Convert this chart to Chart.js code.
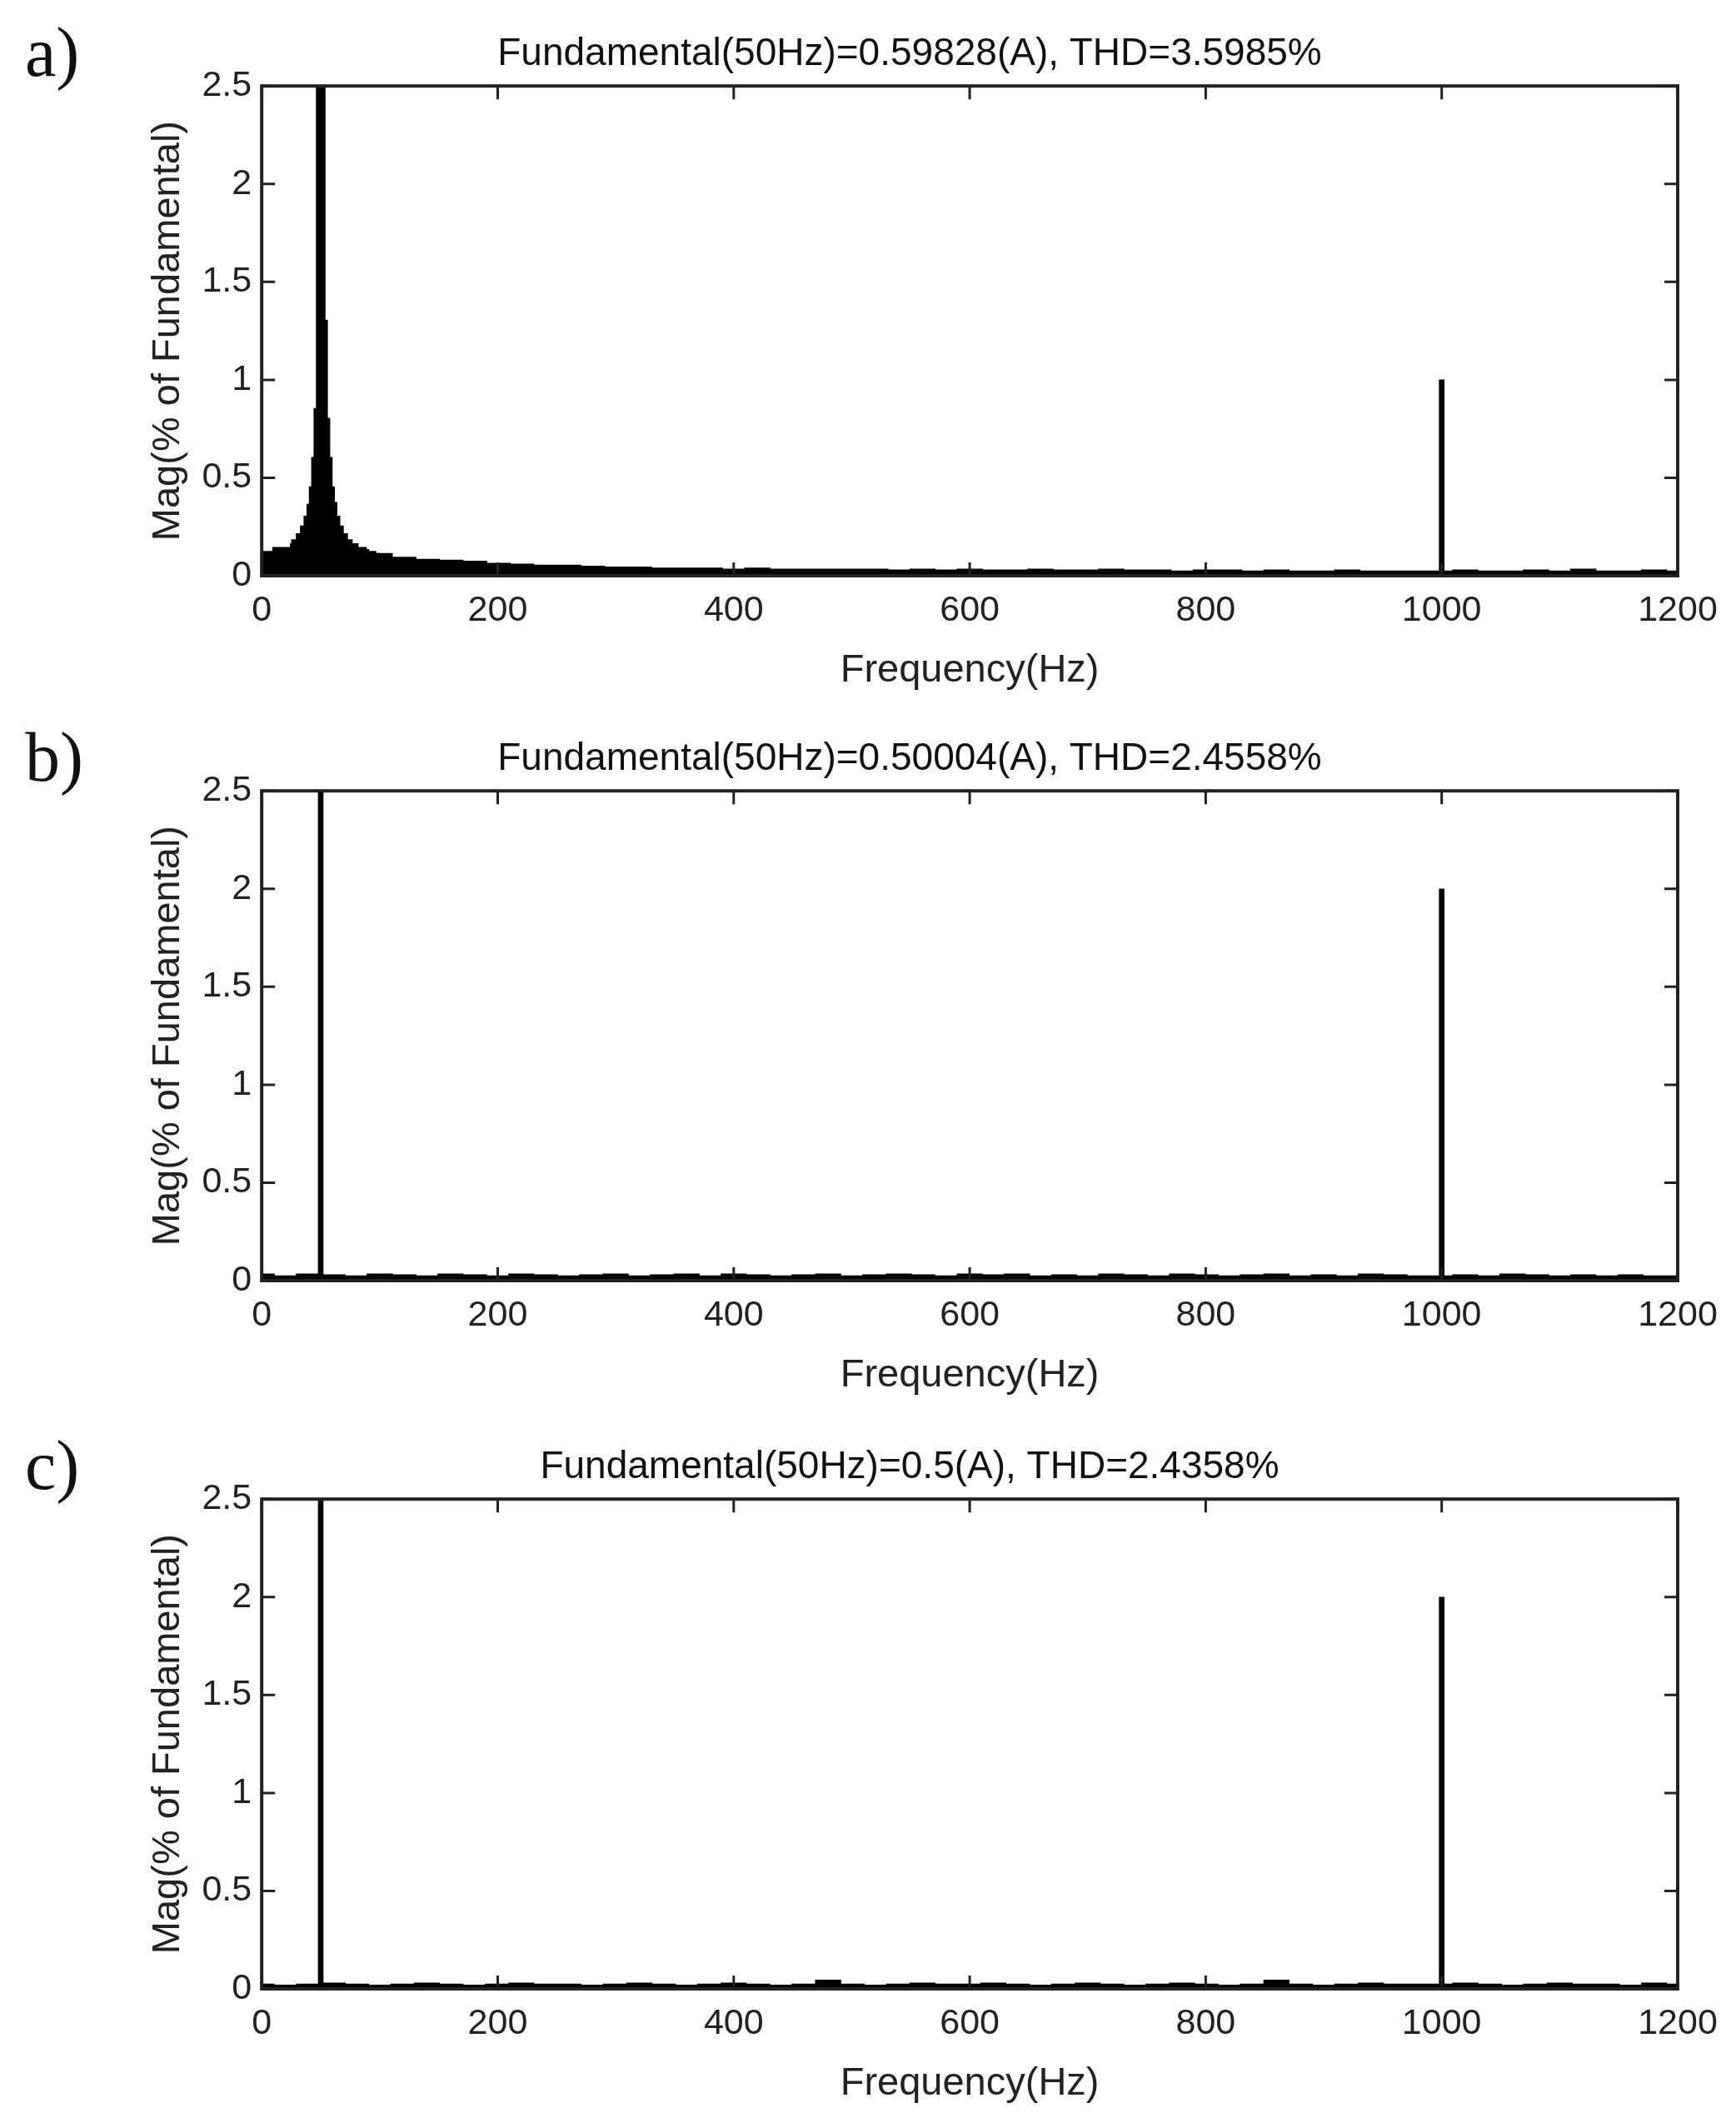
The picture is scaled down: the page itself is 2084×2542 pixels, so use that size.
<!DOCTYPE html>
<html>
<head>
<meta charset="utf-8">
<script src="https://cdn.jsdelivr.net/npm/chart.js@4.4.0/dist/chart.umd.min.js"></script>
<style>
  body { margin: 0; background: #fff; width: 2084px; height: 2542px; position: relative; overflow: hidden; }
  .panel { position: absolute; left: 0; width: 2084px; height: 847px; }
  .tag { position: absolute; left: 30px; font-family: "Liberation Serif", serif; font-size: 84px; color: #111; }
</style>
</head>
<body>
<div class="panel" style="top:0"><canvas id="chartA"></canvas></div>
<div class="panel" style="top:846px"><canvas id="chartB"></canvas></div>
<div class="panel" style="top:1696px"><canvas id="chartC"></canvas></div>
<div class="tag" style="top:14px">a)</div>
<div class="tag" style="top:860px">b)</div>
<div class="tag" style="top:1710px">c)</div>
<script>
const noiseFreq = [0, 20, 40, 60, 80, 100, 120, 140, 160, 180, 200, 220, 240, 260, 280, 300, 320, 340, 360, 380, 400, 420, 440, 460, 480, 500, 520, 540, 560, 580, 600, 620, 640, 660, 680, 700, 720, 740, 760, 780, 800, 820, 840, 860, 880, 900, 920, 940, 960, 980, 1000, 1020, 1040, 1060, 1080, 1100, 1120, 1140, 1160, 1180, 1200]
const noiseA = [0.12, 0.14, 0.14, 0.14, 0.13, 0.11, 0.09, 0.08, 0.075, 0.07, 0.06, 0.055, 0.05, 0.05, 0.045, 0.04, 0.04, 0.035, 0.035, 0.035, 0.03, 0.035, 0.03, 0.03, 0.03, 0.03, 0.03, 0.025, 0.03, 0.025, 0.03, 0.025, 0.025, 0.03, 0.025, 0.025, 0.03, 0.025, 0.025, 0.02, 0.025, 0.025, 0.02, 0.025, 0.02, 0.02, 0.025, 0.02, 0.02, 0.02, 0.02, 0.025, 0.02, 0.02, 0.025, 0.02, 0.03, 0.02, 0.02, 0.025, 0.02]
const noiseB = [0.03, 0.02, 0.03, 0.025, 0.02, 0.03, 0.025, 0.02, 0.03, 0.025, 0.02, 0.03, 0.025, 0.02, 0.025, 0.03, 0.02, 0.025, 0.03, 0.02, 0.03, 0.025, 0.02, 0.025, 0.03, 0.02, 0.025, 0.03, 0.025, 0.02, 0.03, 0.025, 0.03, 0.02, 0.025, 0.02, 0.03, 0.025, 0.02, 0.03, 0.025, 0.02, 0.025, 0.03, 0.02, 0.025, 0.02, 0.03, 0.025, 0.02, 0.02, 0.025, 0.02, 0.03, 0.025, 0.02, 0.025, 0.02, 0.025, 0.02, 0.02]
const noiseC = [0.02, 0.015, 0.02, 0.025, 0.02, 0.015, 0.02, 0.025, 0.02, 0.015, 0.02, 0.025, 0.02, 0.02, 0.015, 0.02, 0.025, 0.02, 0.015, 0.02, 0.025, 0.02, 0.015, 0.02, 0.04, 0.02, 0.015, 0.02, 0.025, 0.02, 0.02, 0.025, 0.02, 0.015, 0.02, 0.025, 0.02, 0.015, 0.02, 0.025, 0.02, 0.015, 0.02, 0.04, 0.02, 0.015, 0.02, 0.025, 0.02, 0.02, 0.02, 0.025, 0.02, 0.015, 0.02, 0.025, 0.02, 0.02, 0.015, 0.025, 0.02]

// Leakage skirt around the 50 Hz line in panel a
const skirtFreq = [24, 28, 32, 35, 38, 40, 42, 44, 46, 48, 52, 54, 56, 58, 60, 62, 64, 67, 70, 74, 78, 84, 92, 100]
const skirtA = [0.16, 0.18, 0.21, 0.25, 0.3, 0.36, 0.45, 0.6, 0.85, 3, 3, 1.3, 0.8, 0.6, 0.45, 0.37, 0.3, 0.25, 0.21, 0.18, 0.16, 0.14, 0.12, 0.11]

// Harmonic lines: frequency and magnitude (50 Hz fundamental runs off the top)
const spikeFreq = [50, 1000]
const spikeA = [100, 1.0]
const spikeB = [100, 2.0]
const spikeC = [100, 2.0]

const xTicks = [0, 200, 400, 600, 800, 1000, 1200]
const yTicks = [0, 0.5, 1, 1.5, 2, 2.5]

const titles = [
  "Fundamental(50Hz)=0.59828(A), THD=3.5985%",
  "Fundamental(50Hz)=0.50004(A), THD=2.4558%",
  "Fundamental(50Hz)=0.5(A), THD=2.4358%"
]

const ink = "#222"
const font = "'Liberation Sans', Arial, sans-serif"

// box + inward ticks on all four sides, like the matlab axes
const boxPlugin = {
  id: "box",
  afterDraw(chart) {
    const { ctx, chartArea: a, scales } = chart
    ctx.save()
    ctx.strokeStyle = ink
    ctx.lineWidth = 4
    ctx.strokeRect(a.left, a.top, a.right - a.left, a.bottom - a.top)
    ctx.lineWidth = 3
    xTicks.forEach((v) => {
      const px = scales.x.getPixelForValue(v)
      ctx.beginPath()
      ctx.moveTo(px, a.bottom); ctx.lineTo(px, a.bottom - 16)
      ctx.moveTo(px, a.top); ctx.lineTo(px, a.top + 16)
      ctx.stroke()
    })
    yTicks.forEach((v) => {
      const py = scales.y.getPixelForValue(v)
      ctx.beginPath()
      ctx.moveTo(a.left, py); ctx.lineTo(a.left + 16, py)
      ctx.moveTo(a.right, py); ctx.lineTo(a.right - 16, py)
      ctx.stroke()
    })
    ctx.restore()
  }
}

function toPts(xs, ys) {
  return xs.map((x, i) => ({ x: x, y: ys[i] }))
}

function areaSet(pts) {
  return {
    type: "line",
    data: pts,
    stepped: "middle",
    borderColor: "#000",
    backgroundColor: "#000",
    borderWidth: 3,
    fill: "origin",
    pointRadius: 0,
  }
}

function makeChart(id, noise, spikes, skirt, title) {
  const datasets = [areaSet(toPts(noiseFreq, noise))]
  if (skirt) datasets.push(areaSet(toPts(skirtFreq, skirt)))
  datasets.push({
    type: "bar",
    data: toPts(spikeFreq, spikes),
    backgroundColor: "#000",
    barThickness: 6,
  })
  new Chart(document.getElementById(id), {
    type: "line",
    data: { datasets },
    options: {
      responsive: false,
      animation: false,
      devicePixelRatio: 1,
      layout: { padding: { left: 170, right: 70, top: 10, bottom: 10 } },
      plugins: {
        legend: { display: false },
        tooltip: { enabled: false },
        title: {
          display: true,
          text: title,
          color: "#111",
          font: { family: font, size: 46, weight: "normal" },
          padding: { top: 28, bottom: 10 },
        },
      },
      scales: {
        x: {
          type: "linear",
          min: 0,
          max: 1200,
          offset: false,
          afterBuildTicks: (s) => { s.ticks = xTicks.map((v) => ({ value: v })) },
          grid: { display: false, drawTicks: false, offset: false },
          border: { display: false },
          ticks: { color: ink, font: { family: font, size: 43 }, padding: 16, callback: (v) => String(v) },
          title: { display: true, text: "Frequency(Hz)", color: ink, font: { family: font, size: 47 }, padding: { top: 2 } },
        },
        y: {
          min: 0,
          max: 2.5,
          afterBuildTicks: (s) => { s.ticks = yTicks.map((v) => ({ value: v })) },
          grid: { display: false, drawTicks: false },
          border: { display: false },
          ticks: { color: ink, font: { family: font, size: 43 }, padding: 12, callback: (v) => String(v) },
          title: { display: true, text: "Mag(% of Fundamental)", color: ink, font: { family: font, size: 47 }, padding: { bottom: 0 } },
        },
      },
    },
    plugins: [boxPlugin],
  })
}

document.querySelectorAll("canvas").forEach((c) => { c.width = 2084; c.height = 847 })
makeChart("chartA", noiseA, spikeA, skirtA, titles[0])
makeChart("chartB", noiseB, spikeB, null, titles[1])
makeChart("chartC", noiseC, spikeC, null, titles[2])
</script>
</body>
</html>
